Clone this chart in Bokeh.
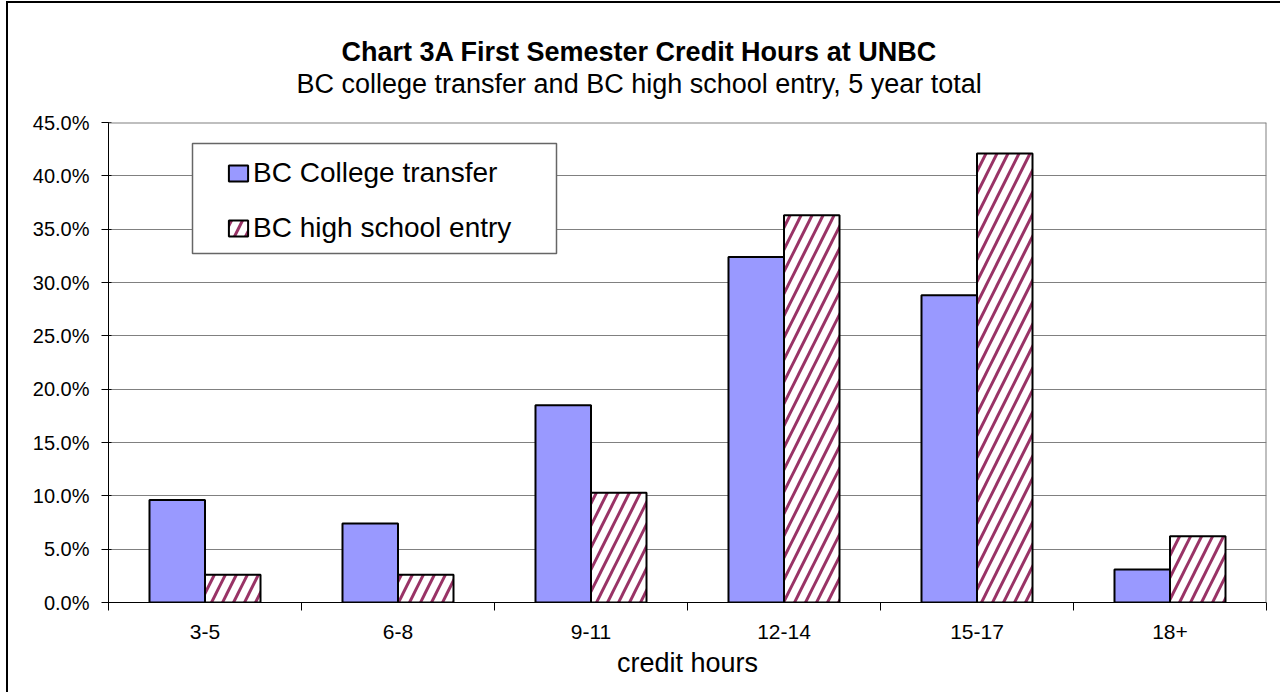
from bokeh.plotting import figure
from bokeh.models import (Range1d, FixedTicker, PrintfTickFormatter, Span, Title,
                          Legend, LegendItem, BoxAnnotation, ColumnDataSource)
from bokeh.embed import file_html
from bokeh.resources import INLINE

# ---- data ----
categories = ["3-5", "6-8", "9-11", "12-14", "15-17", "18+"]
college_transfer = [9.6, 7.4, 18.5, 32.4, 28.8, 3.1]
high_school_entry = [2.6, 2.6, 10.3, 36.3, 42.1, 6.2]
series_names = ["BC College transfer", "BC high school entry"]
y_ticks = [0, 5, 10, 15, 20, 25, 30, 35, 40, 45]

title_text = "Chart 3A  First Semester Credit Hours at UNBC"
subtitle_text = "BC college transfer and BC high school entry, 5 year total"
x_label = "credit hours"

# ---- style ----
FONT = "Liberation Sans"
BAR_W = 0.2876
BLUE = "#9999FF"
MAROON = "#993366"
GRID = "#808080"

n = len(categories)
centers = [i + 0.5 for i in range(n)]
source = ColumnDataSource(dict(
    x_ct=[c - BAR_W / 2 for c in centers],
    x_hs=[c + BAR_W / 2 for c in centers],
    ct=college_transfer,
    hs=high_school_entry,
))

p = figure(width=1280, height=692, x_range=Range1d(0, n), y_range=Range1d(0, 45),
           output_backend="svg", toolbar_location=None,
           min_border_left=108, min_border_right=14, min_border_top=122, min_border_bottom=90,
           background_fill_color="white", border_fill_color=None, outline_line_color=None,
           styles={"background-color": "white",
                   "box-shadow": "inset 6px 1px 0 0 white, inset 8px 3px 0 0 black"})

r1 = p.vbar(x="x_ct", top="ct", bottom=0, width=BAR_W, source=source,
            fill_color=BLUE, line_color="black", line_width=2)
r2 = p.vbar(x="x_hs", top="hs", bottom=0, width=BAR_W, source=source,
            fill_color="white", hatch_pattern="/", hatch_color=MAROON,
            hatch_scale=22, hatch_weight=3, line_color="black", line_width=2)

# x axis
xa = p.xaxis[0]
xa.ticker = FixedTicker(ticks=centers, minor_ticks=list(range(n + 1)))
xa.major_label_overrides = {c: lab for c, lab in zip(centers, categories)}
xa.major_tick_out = 0
xa.major_tick_in = 0
xa.minor_tick_out = 8
xa.minor_tick_in = 0
xa.minor_tick_line_color = "black"
xa.axis_line_color = "black"
xa.major_label_text_font = FONT
xa.major_label_text_font_size = "21px"
xa.major_label_text_color = "black"
xa.major_label_standoff = 14
xa.axis_label = x_label
xa.axis_label_text_font = FONT
xa.axis_label_text_font_size = "27px"
xa.axis_label_text_font_style = "normal"
xa.axis_label_text_color = "black"
xa.axis_label_standoff = 6

# y axis
ya = p.yaxis[0]
ya.ticker = FixedTicker(ticks=y_ticks)
ya.formatter = PrintfTickFormatter(format="%.1f%%")
ya.major_tick_out = 7
ya.major_tick_in = 3
ya.major_tick_line_color = "black"
ya.minor_tick_line_color = None
ya.axis_line_color = "black"
ya.major_label_text_font = FONT
ya.major_label_text_font_size = "20px"
ya.major_label_text_color = "black"
ya.major_label_standoff = 12

p.xgrid.visible = False
p.ygrid.ticker = FixedTicker(ticks=y_ticks)
p.ygrid.grid_line_color = GRID
p.ygrid.grid_line_width = 1

# plot-area border on top and right
p.add_layout(Span(location=45, dimension="width", line_color=GRID, line_width=2))
p.add_layout(Span(location=n, dimension="height", line_color=GRID, line_width=2))

# legend box + legend
p.add_layout(BoxAnnotation(left=84, right=448, top=459, bottom=349,
                           left_units="screen", right_units="screen",
                           top_units="screen", bottom_units="screen",
                           fill_color="white", fill_alpha=1,
                           line_color="#666666", line_alpha=1, line_width=1.5))
legend = Legend(items=[LegendItem(label=series_names[0], renderers=[r1]),
                       LegendItem(label=series_names[1], renderers=[r2])],
                location=(118, 358), orientation="vertical",
                border_line_color=None, background_fill_alpha=0,
                padding=0, margin=0, spacing=23,
                glyph_width=24, glyph_height=20, label_standoff=3,
                label_text_font=FONT, label_text_font_size="28px", label_text_color="black")
p.add_layout(legend)

# titles, stacked upward from the plot: empty spacer, subtitle, title
p.add_layout(Title(text=" ", align="left", standoff=11, text_font=FONT,
                   text_font_size="10px"), "above")
p.add_layout(Title(text=subtitle_text, align="left", offset=188, standoff=0,
                   text_font=FONT, text_font_size="27px", text_font_style="normal",
                   text_color="black"), "above")
p.add_layout(Title(text=title_text, align="left", offset=233, standoff=0,
                   text_font=FONT, text_font_size="27px", text_font_style="bold",
                   text_color="black"), "above")

open("out.html", "w").write(file_html(p, INLINE))
